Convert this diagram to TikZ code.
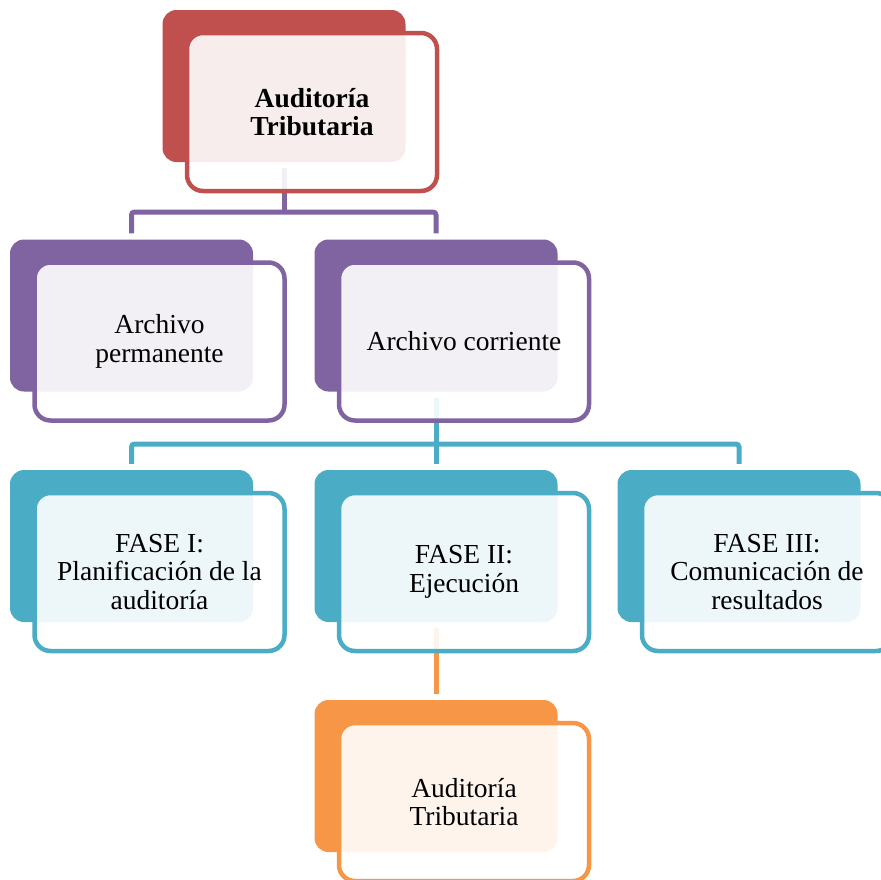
\documentclass[tikz,border=0pt]{standalone}
\usepackage{fontspec}
\setmainfont{Liberation Serif}
\definecolor{cred}{HTML}{C0504D}
\definecolor{cpur}{HTML}{8064A2}
\definecolor{cteal}{HTML}{4BACC6}
\definecolor{corange}{HTML}{F79646}
\newcommand\lbl{\fontsize{27.5}{28.5}\selectfont}
\begin{document}
\begin{tikzpicture}[x=1pt,y=-1pt,
  backbox/.style={rectangle, rounded corners=14pt, minimum width=243pt, minimum height=152pt, inner sep=0pt, draw=none},
  frontbox/.style={rectangle, rounded corners=16pt, minimum width=250pt, minimum height=158pt, inner sep=0pt, line width=4.5pt, fill=white, fill opacity=0.9, draw opacity=1, text opacity=1, align=center, font=\lbl},
  conn/.style={line width=5pt, rounded corners=3pt}]
\useasboundingbox (0,0) rectangle (881,879);
\begin{scope}
\clip (0,0) rectangle (881,879);
% back boxes
\node[backbox, fill=cred]    (bT)  at (284,86) {};
\node[backbox, fill=cpur]    (bAP) at (131.5,315.5) {};
\node[backbox, fill=cpur]    (bAC) at (436,315.5) {};
\node[backbox, fill=cteal]   (bF1) at (131.5,546) {};
\node[backbox, fill=cteal]   (bF2) at (436,546) {};
\node[backbox, fill=cteal]   (bF3) at (739,546) {};
\node[backbox, fill=corange] (bAT) at (436,776) {};
% connectors
\coordinate (j1) at (284,212);
\coordinate (j2) at (436,444);
\draw[conn, cpur] ([yshift=-6pt]bT.south) -- (j1);
\draw[conn, cpur] ([yshift=6pt]bAP.north) |- (j1) -| ([yshift=6pt]bAC.north);
\draw[conn, cteal] ([yshift=-6pt]bAC.south) -- ([yshift=6pt]bF2.north);
\draw[conn, cteal] ([yshift=6pt]bF1.north) |- (j2) -| ([yshift=6pt]bF3.north);
\draw[conn, corange] ([yshift=-6pt]bF2.south) -- ([yshift=6pt]bAT.north);
% front boxes
\node[frontbox, draw=cred]    (fT)  at (312,112) {\bfseries Auditoría\\\bfseries Tributaria};
\node[frontbox, draw=cpur]    (fAP) at (159.5,341.5) {Archivo\\permanente};
\node[frontbox, draw=cpur]    (fAC) at (464,341.5) {Archivo corriente};
\node[frontbox, draw=cteal]   (fF1) at (159.5,572) {FASE I:\\Planificación de la\\auditoría};
\node[frontbox, draw=cteal]   (fF2) at (464,572) {FASE II:\\Ejecución};
\node[frontbox, draw=cteal]   (fF3) at (767,572) {FASE III:\\Comunicación de\\resultados};
\node[frontbox, draw=corange] (fAT) at (464,802) {Auditoría\\Tributaria};
\end{scope}
\end{tikzpicture}
\end{document}
